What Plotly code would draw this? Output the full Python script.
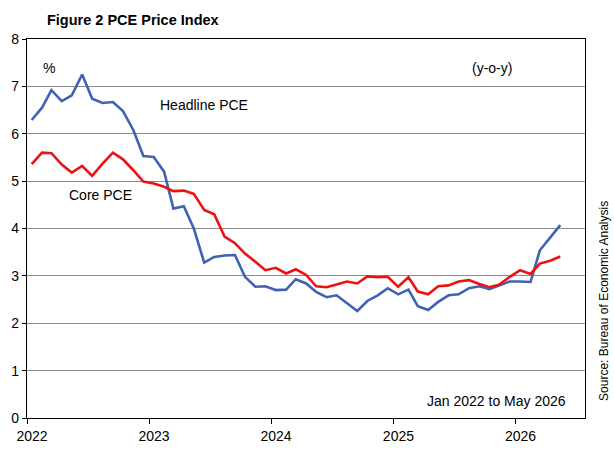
import plotly.graph_objects as go
import pandas as pd

# monthly, Jan 2022 to May 2026 (y-o-y %), plotted mid-month
months = pd.date_range("2022-01-01", periods=53, freq="MS") + pd.Timedelta(days=14)

headline_pce = [6.29, 6.55, 6.92, 6.69, 6.81, 7.25, 6.74, 6.65, 6.67, 6.48, 6.08, 5.53,
                5.51, 5.20, 4.42, 4.47, 4.00, 3.28, 3.40, 3.43, 3.44, 2.98, 2.77, 2.78,
                2.70, 2.71, 2.93, 2.84, 2.66, 2.55, 2.59, 2.43, 2.26, 2.47, 2.59, 2.74,
                2.61, 2.71, 2.36, 2.28, 2.45, 2.59, 2.61, 2.74, 2.78, 2.72, 2.81, 2.88,
                2.88, 2.87, 3.54, 3.80, 4.07]

core_pce = [5.36, 5.60, 5.59, 5.35, 5.18, 5.32, 5.11, 5.37, 5.60, 5.46, 5.23, 4.99,
            4.95, 4.88, 4.79, 4.80, 4.73, 4.39, 4.30, 3.83, 3.69, 3.47, 3.30, 3.12,
            3.17, 3.05, 3.14, 3.02, 2.78, 2.76, 2.82, 2.88, 2.84, 2.99, 2.97, 2.98,
            2.77, 2.97, 2.67, 2.61, 2.78, 2.80, 2.88, 2.91, 2.83, 2.76, 2.82, 2.98,
            3.12, 3.04, 3.26, 3.32, 3.41]

year_ticks = ["2022-01-01", "2023-01-01", "2024-01-01", "2025-01-01", "2026-01-01"]
year_labels = ["2022", "2023", "2024", "2025", "2026"]

font = "Liberation Sans, Arial, sans-serif"

fig = go.Figure()
fig.add_trace(go.Scatter(x=months, y=headline_pce, mode="lines", name="Headline PCE",
                         line=dict(color="#4062B5", width=2.6)))
fig.add_trace(go.Scatter(x=months, y=core_pce, mode="lines", name="Core PCE",
                         line=dict(color="#EE1111", width=2.6)))

fig.update_layout(
    width=614, height=456,
    margin=dict(l=27, r=29, t=39, b=38),
    paper_bgcolor="white", plot_bgcolor="white",
    showlegend=False,
    font=dict(family=font, size=14, color="black"),
    title=dict(text="<b>Figure 2 PCE Price Index</b>", x=0.0765, xanchor="left",
               y=0.956, yanchor="middle", font=dict(size=14.5)),
)
fig.update_xaxes(
    range=["2022-01-01", "2026-07-28"],
    tickvals=year_ticks, ticktext=year_labels, ticklabelshift=5,
    showgrid=False, showline=True, linecolor="black", linewidth=1.2, mirror=True,
    ticks="outside", ticklen=5, tickcolor="black",
)
fig.update_yaxes(
    range=[0, 8], dtick=1,
    showgrid=True, gridcolor="#8c8c8c", gridwidth=1.3,
    showline=True, linecolor="black", linewidth=1.2, mirror=True,
    ticks="outside", ticklen=4, tickcolor="black", zeroline=False,
)

# text labels inside the plot (paper coords)
notes = [
    ("%", 0.039, 0.923),
    ("Headline PCE", 0.318, 0.826),
    ("Core PCE", 0.131, 0.588),
    ("(y-o-y)", 0.833, 0.923),
    ("Jan 2022 to May 2026", 0.842, 0.045),
]
for text, x, y in notes:
    fig.add_annotation(text=text, x=x, y=y, xref="paper", yref="paper",
                       xanchor="center", yanchor="middle",
                       showarrow=False, font=dict(size=14))

fig.add_annotation(text="Source: Bureau of Economic Analysis", x=1.033, y=0.31,
                   xref="paper", yref="paper", xanchor="center", yanchor="middle",
                   showarrow=False, textangle=-90, font=dict(size=12))

# page body has a default 8px margin; drop it so the figure sits at 0,0
fig.write_html("out.html", config={"displayModeBar": False},
               post_script="document.body.style.margin='0';")
